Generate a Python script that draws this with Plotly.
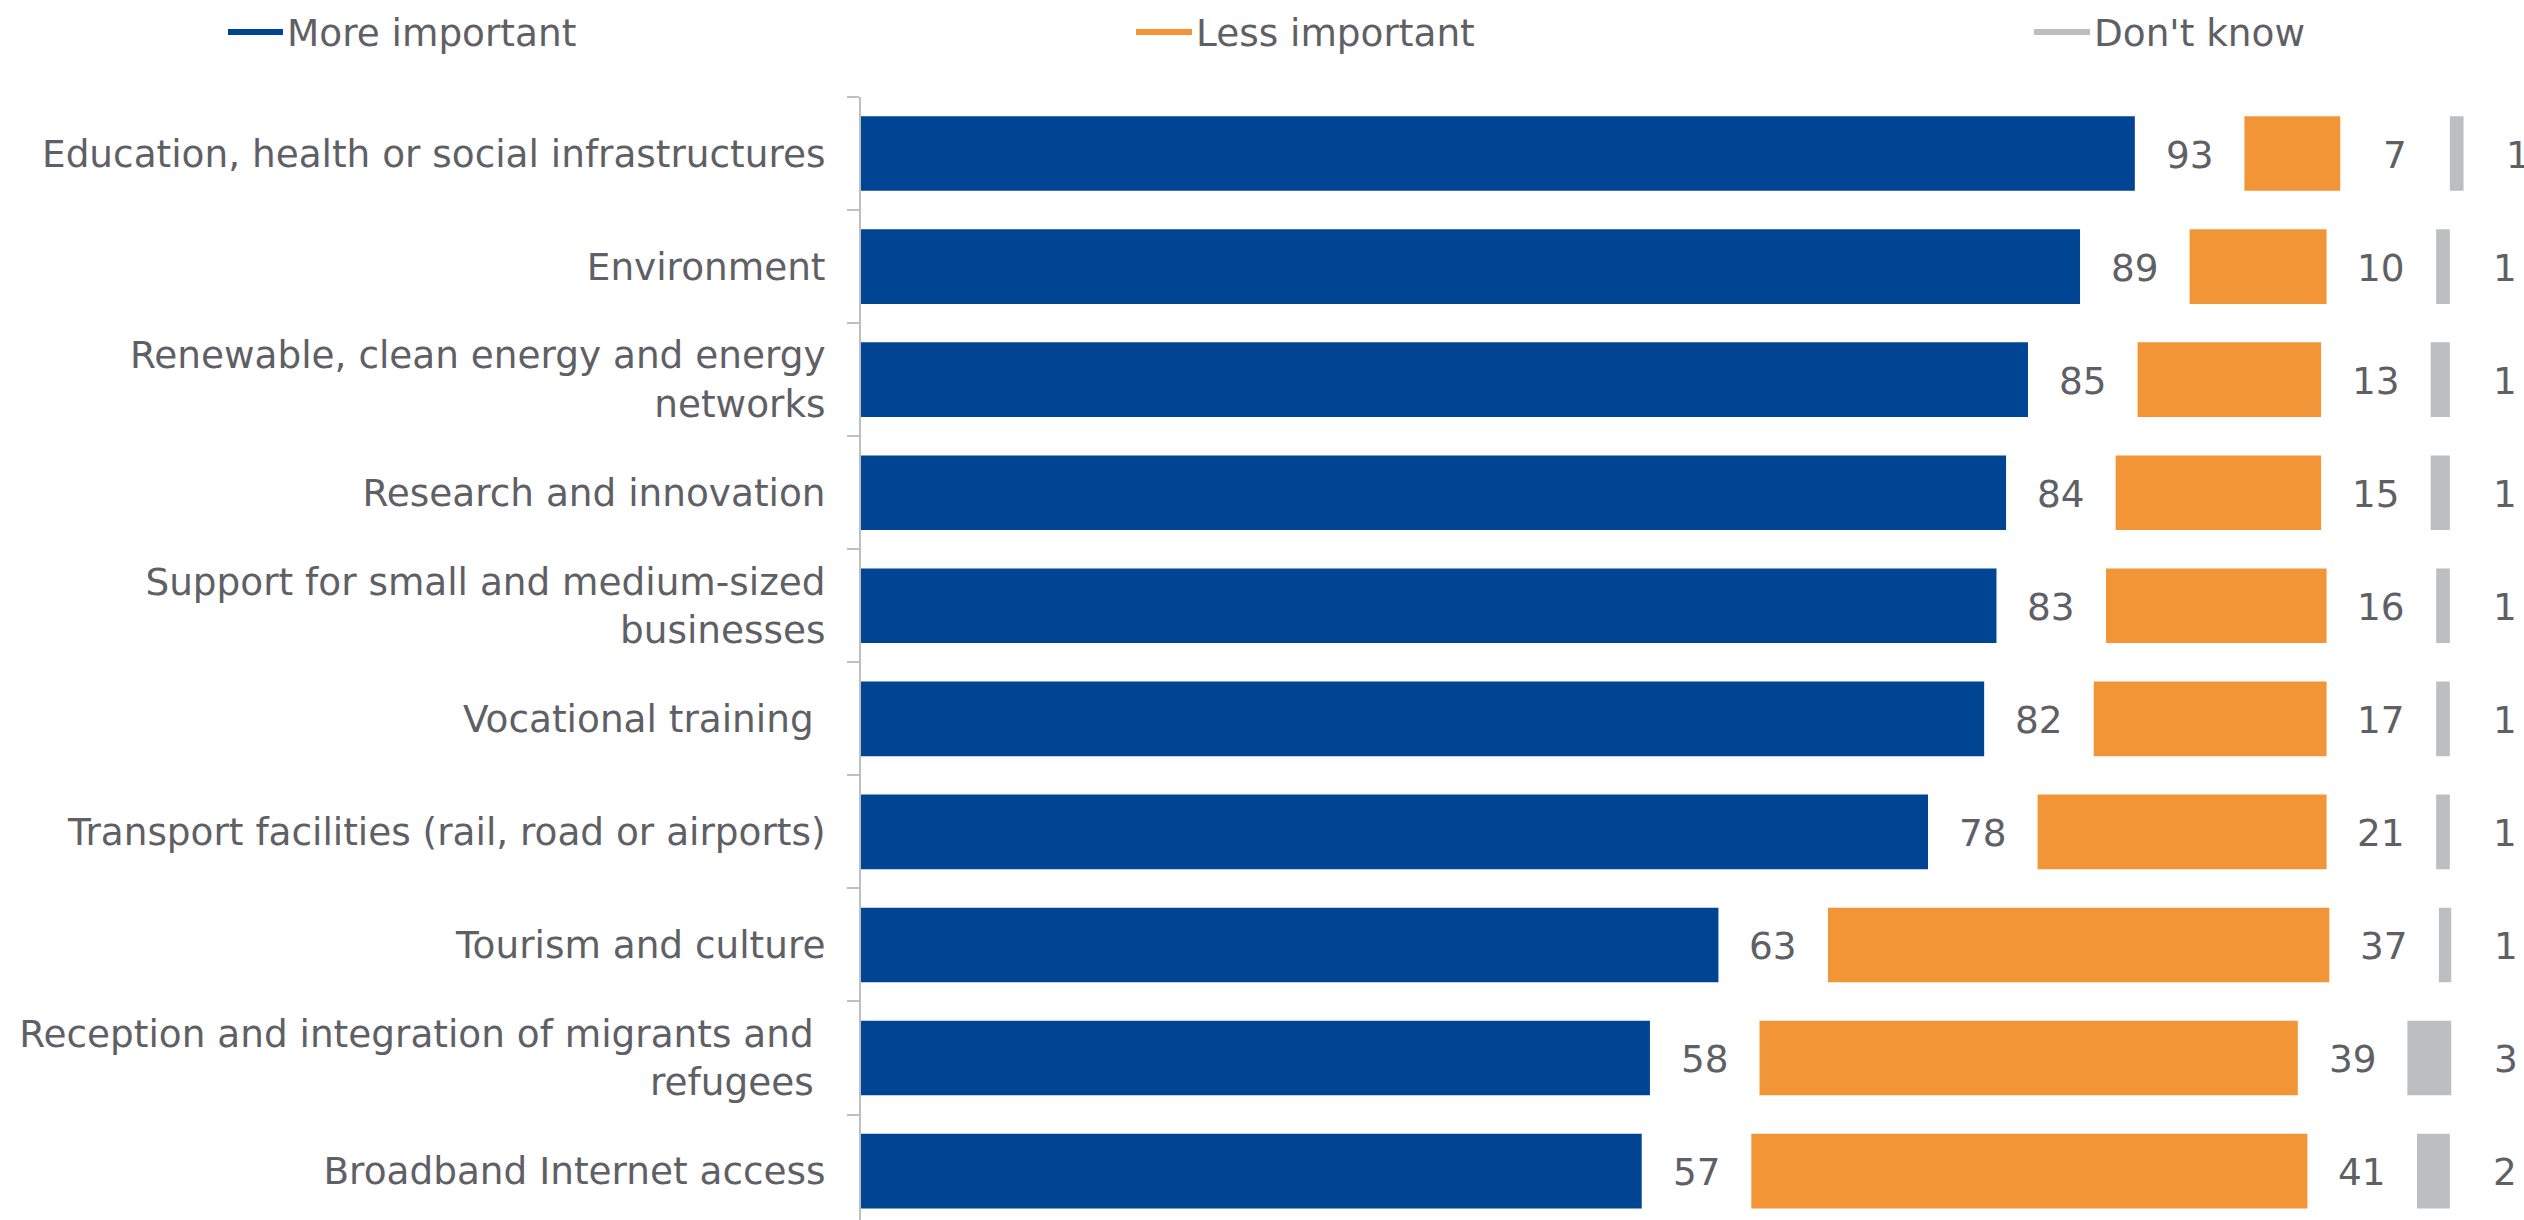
import plotly.graph_objects as go

categories = [
    "Education, health or social infrastructures",
    "Environment",
    "Renewable, clean energy and energy<br>networks",
    "Research and innovation",
    "Support for small and medium-sized<br>businesses",
    "Vocational training\u00a0",
    "Transport facilities (rail, road or airports)",
    "Tourism and culture",
    "Reception and integration of migrants and\u00a0<br>refugees\u00a0",
    "Broadband Internet access",
]
more_important = [93.0, 89.0, 85.2, 83.6, 82.9, 82.0, 77.9, 62.6, 57.6, 57.0]
less_important = [7.0, 10.0, 13.4, 15.0, 16.1, 17.0, 21.1, 36.6, 39.3, 40.6]
dont_know = [1.0, 1.0, 1.4, 1.4, 1.0, 1.0, 1.0, 0.9, 3.2, 2.4]
series_names = ["More important", "Less important", "Don't know"]

# style / layout constants
GAP = 8  # spacer between segments, in axis units
COLORS = ["#004494", "#F29537", "#BDBEC0"]
TEXT = "#5f6065"
FONT = "DejaVu Sans"
FS = 37.4
W, H = 2524, 1220
ML, MT = 861, 97
PX_PER_UNIT = 13.697
CAT_PX = 113.06

base_less = [m + GAP for m in more_important]
base_dk = [b + l + GAP for b, l in zip(base_less, less_important)]
lab_more = [m + GAP / 2 for m in more_important]
lab_less = [b + l + GAP / 2 for b, l in zip(base_less, less_important)]
lab_dk = [b + d + GAP / 2 for b, d in zip(base_dk, dont_know)]

fig = go.Figure()
for vals, base, col in [
    (more_important, None, COLORS[0]),
    (less_important, base_less, COLORS[1]),
    (dont_know, base_dk, COLORS[2]),
]:
    fig.add_trace(go.Bar(
        y=categories, x=vals, base=base, orientation="h",
        marker=dict(color=col, line=dict(width=0)),
        width=0.66, showlegend=False, hoverinfo="skip",
    ))

annotations = []
for xs, vals in [(lab_more, more_important), (lab_less, less_important), (lab_dk, dont_know)]:
    for cat, xv, v in zip(categories, xs, vals):
        annotations.append(dict(
            xref="x", yref="y", x=xv, y=cat, text=f"{v:.0f}",
            showarrow=False, xanchor="center", yanchor="middle", yshift=-1,
            borderpad=0, font=dict(family=FONT, size=FS, color=TEXT),
        ))

plot_w = W - ML
plot_h = H - MT
xmax = plot_w / PX_PER_UNIT
ybottom = -0.5 + plot_h / CAT_PX

# manual legend (line symbols like the original)
legend_items = [(228, 283, 286), (1136, 1192, 1195), (2034, 2090, 2093)]
shapes = []
for (x0, x1, xt), name, col in zip(legend_items, series_names, COLORS):
    yp = (H - 32) / plot_h
    shapes.append(dict(type="line", xref="paper", yref="paper",
                       x0=(x0 - ML) / plot_w, x1=(x1 - ML) / plot_w, y0=yp, y1=yp,
                       line=dict(color=col, width=6)))
    annotations.append(dict(xref="paper", yref="paper", x=(xt - ML) / plot_w,
                            y=(H - 33) / plot_h, xanchor="left", yanchor="middle",
                            text=name, showarrow=False, borderpad=0,
                            font=dict(family=FONT, size=FS, color=TEXT)))

fig.update_layout(
    width=W, height=H, autosize=False,
    margin=dict(l=ML, r=0, t=MT, b=0, pad=0),
    barmode="overlay",
    plot_bgcolor="white", paper_bgcolor="white",
    font=dict(family=FONT, size=FS, color=TEXT),
    shapes=shapes, annotations=annotations,
    xaxis=dict(range=[0, xmax], visible=False, fixedrange=True),
    yaxis=dict(
        type="category", categoryorder="array", categoryarray=categories,
        range=[ybottom, -0.5], showline=True, linecolor="#BFBFBF", linewidth=2,
        ticks="outside", ticklen=12, tickwidth=2, tickcolor="#BFBFBF",
        tickson="boundaries", showgrid=False, zeroline=False,
        ticklabelstandoff=26,
        tickfont=dict(family=FONT, size=FS, color=TEXT), fixedrange=True,
    ),
)

fig.write_html("out.html", config={"displayModeBar": False},
               post_script="document.body.style.margin='0';document.body.style.overflow='hidden';")
